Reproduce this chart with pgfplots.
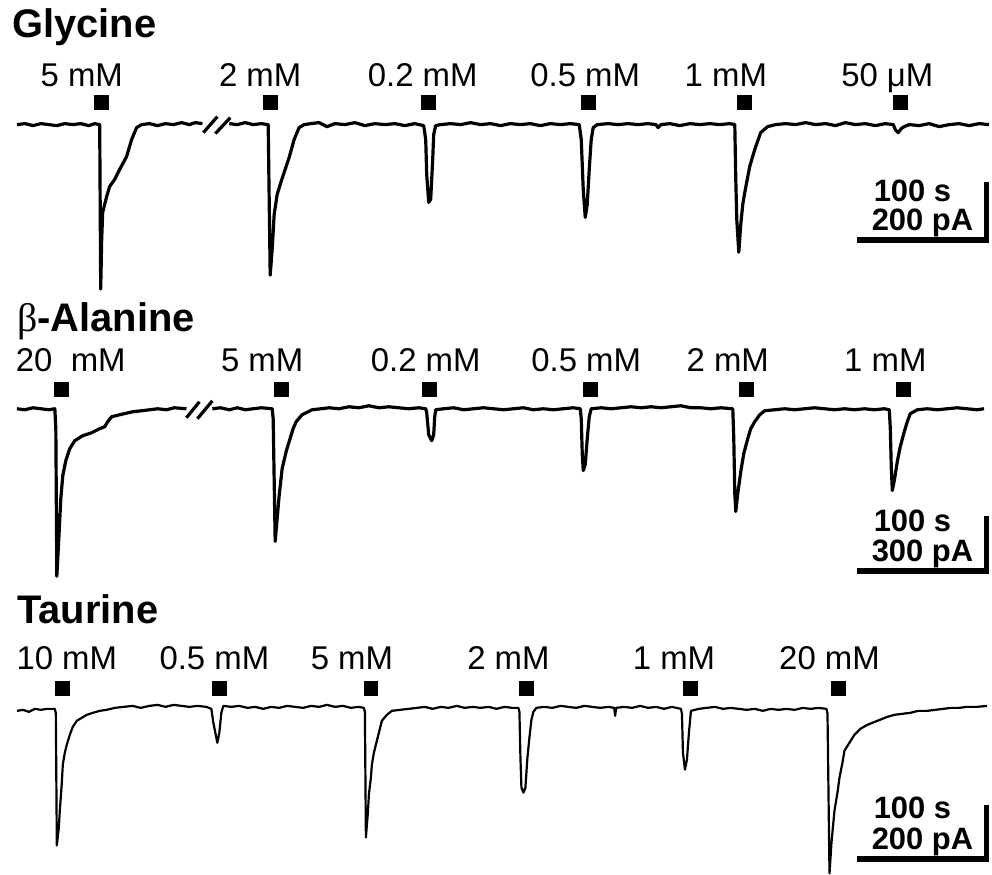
\documentclass[border=0pt]{standalone}
\usepackage{fontspec}
\setmainfont{Liberation Sans}
\newfontfamily\serifb{Liberation Serif}
\usepackage{pgfplots}
\pgfplotsset{compat=1.18}
\begin{document}
\begin{tikzpicture}
\begin{axis}[x=0.5pt, y=0.5pt, y dir=reverse, xmin=0, xmax=992, ymin=0, ymax=876,
  hide axis, clip=false, scale only axis]
\path (axis cs:0,0) rectangle (axis cs:992,876);
% ---------- Glycine ----------
\addplot[black, line width=1.6pt, line join=round] coordinates {
(17,125) (25,124) (33,126) (41,124) (49,125) (57,126) (65,124) (73,125) (81,124) (89,126) (95,124) (100,125)
(101,290) (102,240) (103,213) (107,197) (110,187) (115,180) (120,170) (127,157) (132,140) (137,128) (142,125)
(150,124) (158,126) (166,124) (174,125) (182,123) (190,125) (196,123) (203,124)};
\addplot[black, line width=1.6pt, line join=round] coordinates {
(230,124) (238,125) (246,123) (254,125) (262,124) (269,125)
(271,276) (273,250) (275,215) (278,195) (282,182) (286,170) (290,158) (295,140) (300,128) (305,125)
(312,124) (320,123) (328,127) (336,124) (346,125) (356,123) (366,126) (376,124) (386,125) (396,124) (406,126) (416,124) (425,126)
(427,140) (428,175) (430,203) (432,200) (434,160) (435,135) (437,126) (442,125)
(452,124) (462,125) (472,123) (482,125) (492,124) (502,126) (512,124) (522,125) (532,124) (542,126) (552,124) (562,125) (572,124) (581,125)
(583,140) (585,190) (587,218) (589,205) (591,170) (593,140) (595,128) (599,125)
(610,124) (620,125) (630,124) (640,125) (650,124) (658,125) (660,128) (663,125) (672,124) (682,126) (692,124) (702,125) (712,124) (722,125) (732,124) (737,125)
(738,180) (739,220) (741,253) (743,225) (745,205) (747,193) (752,167) (757,150) (763,133) (770,127) (778,125)
(788,124) (798,125) (808,123) (818,125) (828,124) (838,126) (848,123) (858,125) (868,124) (878,126) (888,124) (896,125)
(898,130) (901,133) (904,129) (907,127) (912,125)
(922,126) (932,124) (942,127) (952,125) (962,124) (972,126) (982,124) (992,125)};
\addplot[black, line width=1.6pt] coordinates {(204,133) (218,117)};
\addplot[black, line width=1.6pt] coordinates {(216,134) (231,118)};
\addplot[black, only marks, mark=square*, mark size=3.5pt, mark options={draw=none, fill=black}]
  coordinates {(102,103) (271,103) (430,103) (590,103) (747,103) (903,103)};
% scale bar
\addplot[black, line width=3pt] coordinates {(860,241) (992,241)};
\addplot[black, line width=2.5pt] coordinates {(989.5,183) (989.5,244)};
% ---------- beta-Alanine ----------
\addplot[black, line width=1.6pt, line join=round] coordinates {
(17,410) (25,411) (33,409) (41,410) (49,411) (55,410)
(56,430) (57,578) (59,540) (61,500) (63,477) (66,462) (70,450) (75,442) (83,437) (92,434) (100,430) (105,428) (108,423) (112,418) (120,416) (133,413)
(142,412) (150,411) (158,410) (167,411) (175,409) (187,410)};
\addplot[black, line width=1.6pt, line join=round] coordinates {
(213,410) (221,409) (230,411) (238,409) (246,411) (254,410) (262,409) (273,410)
(274,420) (276,543) (278,520) (280,497) (283,470) (287,453) (290,443) (294,430) (297,423) (303,416) (313,411)
(322,410) (330,409) (340,410) (350,408) (360,409) (370,407) (380,409) (390,408) (400,409) (410,410) (420,409) (427,410)
(428,414) (430,436) (433,442) (435,436) (436,418) (437,411)
(445,410) (455,409) (465,411) (475,410) (485,409) (495,410) (505,411) (515,410) (525,409) (535,411) (545,410) (555,411) (565,410) (575,409) (582,410)
(583,420) (584,455) (585,472) (587,466) (589,440) (591,418) (593,410)
(603,409) (613,410) (623,409) (633,408) (643,409) (653,408) (663,409) (673,408) (683,407) (693,409) (703,409) (713,410) (723,409) (735,410)
(736,440) (737,495) (738,513) (740,495) (743,473) (746,455) (750,440) (753,430) (757,423) (762,416) (767,412)
(777,411) (787,410) (797,411) (807,410) (817,409) (827,410) (837,411) (847,410) (857,411) (867,410) (877,411) (887,410) (892,411)
(893,430) (894,470) (895,492) (897,482) (900,463) (903,448) (907,433) (910,423) (913,415) (920,411)
(930,410) (940,411) (950,410) (960,409) (970,410) (980,411) (987,410)};
\addplot[black, line width=1.6pt] coordinates {(187,419) (200,403)};
\addplot[black, line width=1.6pt] coordinates {(198,420) (213,402)};
\addplot[black, only marks, mark=square*, mark size=3.5pt, mark options={draw=none, fill=black}]
  coordinates {(62,391) (282,391) (431,391) (592,391) (749,391) (906,391)};
\addplot[black, line width=3pt] coordinates {(860,573) (992,573)};
\addplot[black, line width=2.5pt] coordinates {(989.5,518) (989.5,576)};
% ---------- Taurine ----------
\addplot[black, line width=1.1pt, line join=round] coordinates {
(17,713) (23,712) (29,714) (35,711) (41,712) (47,711) (55,711)
(56,715) (57,848) (59,830) (60,813) (62,785) (63,767) (65,755) (67,747) (70,737) (73,729) (77,723) (82,720) (87,717) (93,715) (100,713)
(107,712) (115,710) (124,709) (133,708) (141,710) (150,708) (158,707) (166,709) (174,707) (182,708) (190,709) (198,708) (207,709)
(212,711) (214,725) (216,735) (218,745) (220,735) (222,715) (224,708)
(232,709) (240,708) (248,710) (256,709) (264,711) (272,709) (280,710) (288,708) (296,709) (304,710) (312,708) (320,709) (328,707) (336,709) (344,708) (352,710) (359,709) (365,710)
(366,714) (367,840) (369,815) (370,797) (372,780) (373,767) (375,755) (377,747) (380,735) (383,723) (388,717) (393,713)
(401,712) (410,711) (418,710) (426,709) (434,711) (442,709) (450,710) (458,708) (466,710) (474,709) (482,710) (490,709) (498,711) (506,709) (514,710) (520,710)
(521,714) (522,760) (523,790) (525,795) (527,790) (529,760) (531,740) (533,722) (535,714) (538,710)
(546,709) (554,710) (562,708) (570,709) (578,710) (586,708) (594,709) (602,710) (610,709) (616,710) (617,718) (618,710)
(626,709) (634,710) (642,708) (650,710) (658,709) (666,711) (674,709) (683,711)
(684,716) (685,755) (687,772) (689,762) (691,735) (693,713)
(701,711) (709,710) (717,709) (725,711) (733,710) (741,711) (749,712) (757,711) (765,713) (773,711) (781,712) (789,711) (797,712) (805,710) (813,711) (821,710) (829,711)
(830,716) (832,876) (834,845) (837,813) (840,795) (842,780) (845,765) (847,753) (852,745) (857,737) (863,731) (870,727) (880,723) (890,719) (897,717) (905,716) (913,715) (921,713) (930,713) (938,712) (946,711) (954,710) (962,710) (970,709) (980,709) (990,708)};
\addplot[black, only marks, mark=square*, mark size=3.5pt, mark options={draw=none, fill=black}]
  coordinates {(63,690) (220,690) (372,690) (528,690) (692,690) (841,690)};
\addplot[black, line width=3pt] coordinates {(860,862) (992,862)};
\addplot[black, line width=2.5pt] coordinates {(989.5,807) (989.5,865)};
% ---------- texts ----------
\begin{scope}[every node/.style={inner sep=0pt, font=\fontsize{20}{22}\selectfont\bfseries}]
\node[anchor=base west] at (axis cs:12,38) {Glycine};
\node[anchor=base west] at (axis cs:17,332) {{\serifb\mdseries β}-Alanine};
\node[anchor=base west] at (axis cs:17,625) {Taurine};
\end{scope}
\begin{scope}[every node/.style={inner sep=0pt, anchor=base, font=\fontsize{16.5}{18}\selectfont}]
\node at (axis cs:82,87) {5 mM};
\node at (axis cs:261,87) {2 mM};
\node at (axis cs:424,87) {0.2 mM};
\node at (axis cs:587,87) {0.5 mM};
\node at (axis cs:728,87) {1 mM};
\node at (axis cs:890,87) {50 μM};
\node at (axis cs:71,373) {20\ \ mM};
\node at (axis cs:263,373) {5 mM};
\node at (axis cs:427,373) {0.2 mM};
\node at (axis cs:588,373) {0.5 mM};
\node at (axis cs:730,373) {2 mM};
\node at (axis cs:888,373) {1 mM};
\node at (axis cs:67,672) {10 mM};
\node at (axis cs:215,672) {0.5 mM};
\node at (axis cs:353,672) {5 mM};
\node at (axis cs:510,672) {2 mM};
\node at (axis cs:676,672) {1 mM};
\node at (axis cs:832,672) {20 mM};
\end{scope}
\begin{scope}[every node/.style={inner sep=0pt, anchor=base west, font=\fontsize{15.5}{17}\selectfont\bfseries}]
\node at (axis cs:876,202) {100 s};
\node at (axis cs:874,231) {200 pA};
\node at (axis cs:876,533) {100 s};
\node at (axis cs:874,563) {300 pA};
\node at (axis cs:876,821) {100 s};
\node at (axis cs:874,852) {200 pA};
\end{scope}
\end{axis}
\end{tikzpicture}
\end{document}
